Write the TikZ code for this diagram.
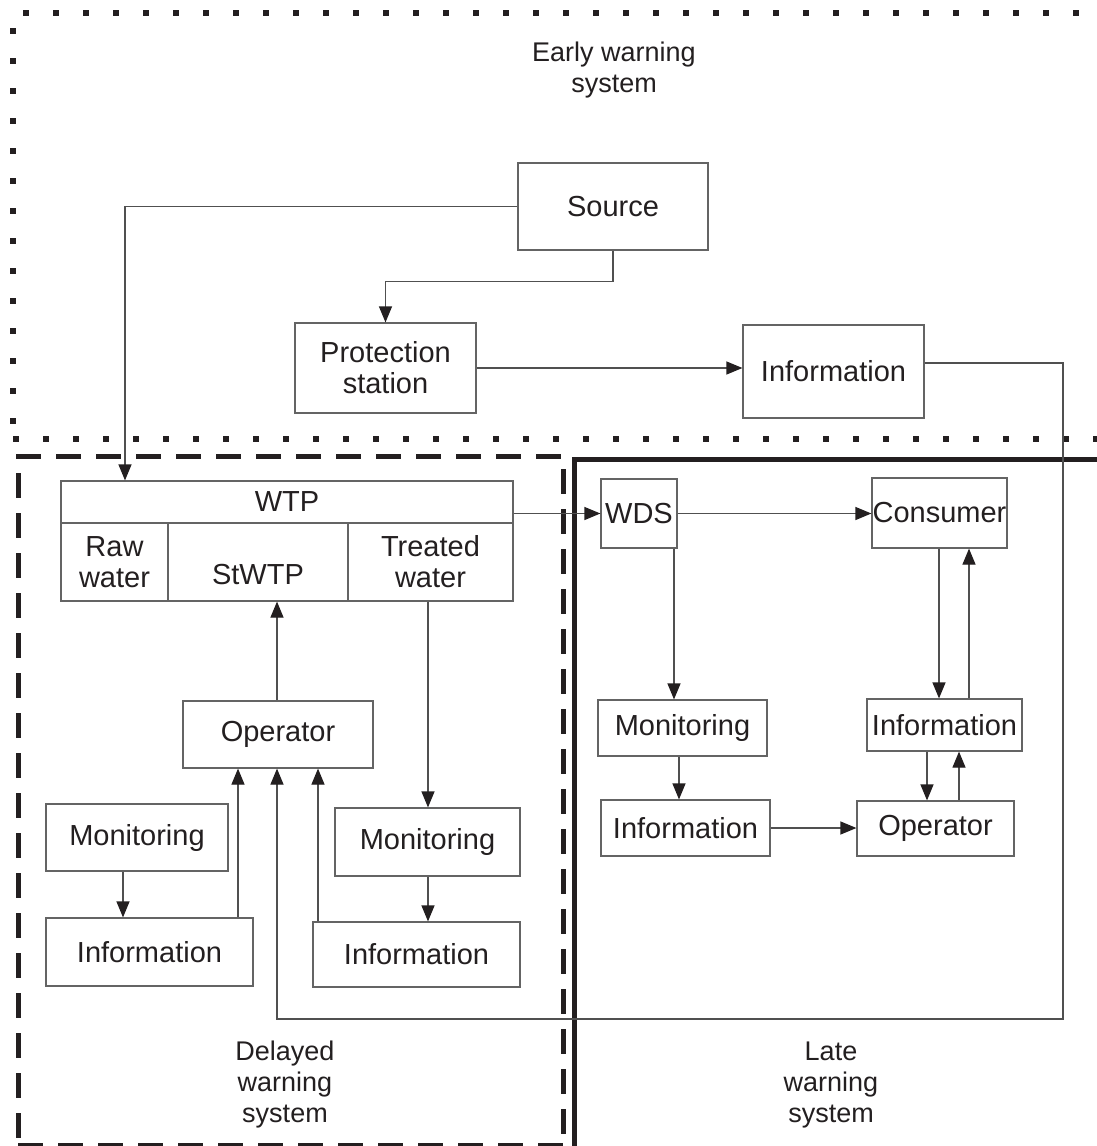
\documentclass[tikz,border=0pt]{standalone}
\usepackage{fontspec}
\setmainfont{Liberation Sans}
\usetikzlibrary{arrows.meta}
\definecolor{ink}{RGB}{35,31,32}
\definecolor{boxgray}{RGB}{100,100,100}
\definecolor{linegray}{RGB}{80,80,80}
\tikzset{
  box/.style={draw=boxgray, line width=1.2pt, inner sep=0pt, text=ink,
    font=\fontsize{29}{31}\selectfont, align=center},
  arr/.style={draw=linegray, line width=1.2pt,
    -{Triangle[length=16pt,width=13pt,color=ink]}},
  conn/.style={draw=linegray, line width=1.2pt},
  title/.style={text=ink, font=\fontsize{27}{31}\selectfont, align=center, inner sep=0pt},
  dotline/.style={draw=ink, line width=6pt, dash pattern=on 6pt off 24pt},
  dashline/.style={draw=ink, line width=5pt, dash pattern=on 25pt off 15pt},
  solidline/.style={draw=ink, line width=5pt}
}
\begin{document}
\begin{tikzpicture}[x=1pt,y=-1pt]
\useasboundingbox (0,0) rectangle (1096,1146);
\fill[white] (0,0) rectangle (1096,1146);

% region borders
\draw[dotline] (23,13) -- (1100,13);
\draw[dotline] (13,28) -- (13,440);
\draw[dotline] (13,438.5) -- (1100,438.5);
\draw[dashline] (16,456) -- (563,456);
\draw[dashline] (18,473) -- (18,1150);
\draw[dashline] (18,1145) -- (563,1145);
\draw[dashline] (563,469) -- (563,1150);
\draw[solidline] (574,1150) -- (574,459) -- (1100,459);

% titles
\node[title] (tearly) at (614,70) {Early warning\\system};
\node[title] (tdelayed) at (285,1085) {Delayed\\warning\\system};
\node[title] (tlate) at (831,1085) {Late\\warning\\system};

% nodes
\node[box, minimum width=190pt, minimum height=87pt] (src) at (613,206.5) {Source};
\node[box, minimum width=181pt, minimum height=90pt] (prot) at (385.5,368) {Protection\\station};
\node[box, minimum width=181pt, minimum height=93pt] (info1) at (833.5,371.5) {Information};

\node[box, minimum width=452pt, minimum height=42pt] (wtphead) at (287,502) {WTP};
\node[box, minimum width=107pt, minimum height=78pt] (raw) at (114.5,562) {Raw\\water};
\node[box, minimum width=180pt, minimum height=78pt] (st) at (258,562) {\raisebox{-13pt}[\height][\depth]{StWTP}};
\node[box, minimum width=165pt, minimum height=78pt] (treated) at (430.5,562) {Treated\\water};

\node[box, minimum width=76pt, minimum height=69pt] (wds) at (639,513.5) {WDS};
\node[box, minimum width=135pt, minimum height=70pt] (cons) at (939.5,513) {Consumer};

\node[box, minimum width=190pt, minimum height=67pt] (op1) at (278,734.5) {Operator};
\node[box, minimum width=182pt, minimum height=67pt] (mon1) at (137,837.5) {Monitoring};
\node[box, minimum width=207pt, minimum height=68pt] (inf1b) at (149.5,952) {Information};
\node[box, minimum width=185pt, minimum height=68pt] (mon2) at (427.5,842) {Monitoring};
\node[box, minimum width=207pt, minimum height=65pt] (inf2b) at (416.5,954.5) {Information};

\node[box, minimum width=169pt, minimum height=56pt] (mon3) at (682.5,728) {Monitoring};
\node[box, minimum width=169pt, minimum height=56pt] (inf3) at (685.5,828) {Information};
\node[box, minimum width=155pt, minimum height=52pt] (inf4) at (944.5,725) {Information};
\node[box, minimum width=157pt, minimum height=55pt] (op3) at (935.5,828.5) {Operator};

% helper coordinates
\coordinate (x125) at (125,0);
\coordinate (x674) at (674,0);
\coordinate (x679) at (679,0);
\coordinate (x927) at (927,0);
\coordinate (x959) at (959,0);
\coordinate (x939) at (939,0);
\coordinate (x969) at (969,0);
\coordinate (x123) at (123,0);
\coordinate (x238) at (238,0);
\coordinate (x318) at (318,0);
\coordinate (x428) at (428,0);
\coordinate (c1) at (1063,363);
\coordinate (c2) at (1063,1019);
\coordinate (c3) at (277,1019);

% connectors
\draw[arr] (src.west) -| (wtphead.north -| x125);
\draw[arr] (src.south) -- ++(0,31) -| (prot.north);
\draw[arr] (prot.east) -- (info1.west |- prot.east);
\draw[arr] (info1.east |- c1) -- (c1) -- (c2) -- (c3) -- (op1.south -| c3);
\draw[arr] (wtphead.east |- wds.west) -- (wds.west);
\draw[arr] (wds.east) -- (cons.west |- wds.east);
\draw[arr] (wds.south -| x674) -- (mon3.north -| x674);
\draw[arr] (mon3.south -| x679) -- (inf3.north -| x679);
\draw[arr] (inf3.east) -- (op3.west |- inf3.east);
\draw[arr] (inf4.south -| x927) -- (op3.north -| x927);
\draw[arr] (op3.north -| x959) -- (inf4.south -| x959);
\draw[arr] (cons.south -| x939) -- (inf4.north -| x939);
\draw[arr] (inf4.north -| x969) -- (cons.south -| x969);
\draw[arr] (op1.north -| c3) -- (st.south -| c3);
\draw[arr] (mon1.south -| x123) -- (inf1b.north -| x123);
\draw[arr] (inf1b.north -| x238) -- (op1.south -| x238);
\draw[arr] (inf2b.north -| x318) -- (op1.south -| x318);
\draw[arr] (treated.south -| x428) -- (mon2.north -| x428);
\draw[arr] (mon2.south -| x428) -- (inf2b.north -| x428);
\end{tikzpicture}
\end{document}
